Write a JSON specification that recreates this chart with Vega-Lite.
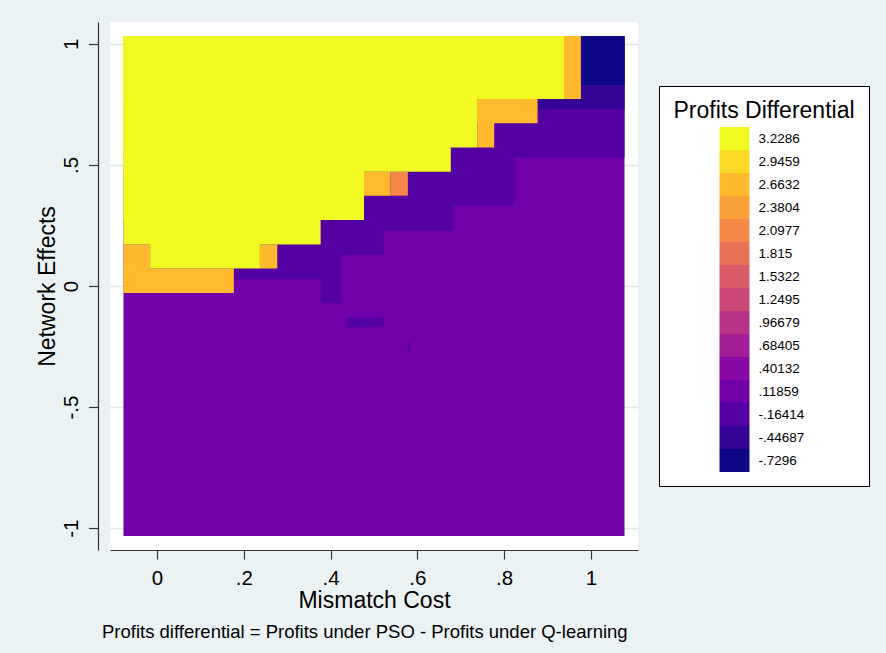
{
  "$schema": "https://vega.github.io/schema/vega-lite/v6.json",
  "width": 528,
  "height": 528,
  "autosize": {"type": "none"},
  "padding": {"left": 110, "top": 22, "right": 248, "bottom": 103},
  "background": "#eaf2f3",
  "config": {"view": {"fill": "white", "stroke": null}, "font": "Liberation Sans"},
  "title": {"text": "Profits differential = Profits under PSO - Profits under Q-learning", "orient": "bottom", "anchor": "start", "frame": "group", "fontSize": 18.5, "fontWeight": "normal", "color": "black", "offset": 10, "dx": -8},
  "data": {"values": [
    {"x": -0.0774, "x2": 1.0774, "y": -1.032, "y2": 1.032, "z": ".11859"},
    {"x": 0.377, "x2": 0.423, "y": -0.071, "y2": 1.032, "z": "-.16414"},
    {"x": 0.177, "x2": 0.423, "y": 0.028, "y2": 1.032, "z": "-.16414"},
    {"x": 0.177, "x2": 0.522, "y": 0.128, "y2": 1.032, "z": "-.16414"},
    {"x": 0.177, "x2": 0.683, "y": 0.228, "y2": 1.032, "z": "-.16414"},
    {"x": 0.177, "x2": 0.823, "y": 0.332, "y2": 1.032, "z": "-.16414"},
    {"x": 0.177, "x2": 1.0774, "y": 0.531, "y2": 1.032, "z": "-.16414"},
    {"x": 0.437, "x2": 0.522, "y": -0.17, "y2": -0.128, "z": "-.16414"},
    {"x": 0.578, "x2": 0.582, "y": -0.271, "y2": -0.23, "z": "-.16414"},
    {"x": 0.877, "x2": 1.0774, "y": 0.731, "y2": 1.032, "z": "-.44687"},
    {"x": -0.0774, "x2": -0.016, "y": -0.029, "y2": 0.171, "z": "2.6632"},
    {"x": -0.0774, "x2": 0.177, "y": -0.029, "y2": 0.072, "z": "2.6632"},
    {"x": 0.237, "x2": 0.277, "y": 0.072, "y2": 0.171, "z": "2.6632"},
    {"x": 0.477, "x2": 0.538, "y": 0.373, "y2": 0.472, "z": "2.6632"},
    {"x": 0.738, "x2": 0.777, "y": 0.572, "y2": 0.772, "z": "2.6632"},
    {"x": 0.738, "x2": 0.877, "y": 0.672, "y2": 0.772, "z": "2.6632"},
    {"x": 0.938, "x2": 0.977, "y": 0.772, "y2": 1.032, "z": "2.6632"},
    {"x": 0.538, "x2": 0.578, "y": 0.373, "y2": 0.472, "z": "2.0977"},
    {"x": 0.977, "x2": 1.0774, "y": 0.83, "y2": 1.032, "z": "-.7296"},
    {"x": -0.0774, "x2": 0.938, "y": 0.772, "y2": 1.032, "z": "3.2286"},
    {"x": -0.0774, "x2": 0.738, "y": 0.572, "y2": 1.032, "z": "3.2286"},
    {"x": -0.0774, "x2": 0.677, "y": 0.472, "y2": 1.032, "z": "3.2286"},
    {"x": -0.0774, "x2": 0.477, "y": 0.272, "y2": 1.032, "z": "3.2286"},
    {"x": -0.0774, "x2": 0.377, "y": 0.171, "y2": 1.032, "z": "3.2286"},
    {"x": -0.016, "x2": 0.237, "y": 0.072, "y2": 1.032, "z": "3.2286"}
  ]},
  "mark": {"type": "rect"},
  "encoding": {
    "x": {"field": "x", "type": "quantitative", "title": "Mismatch Cost",
      "scale": {"domain": [-0.1085, 1.1085], "nice": false, "zero": false},
      "axis": {"values": [0, 0.2, 0.4, 0.6, 0.8, 1], "labelExpr": "datum.value == 0 ? '0' : datum.value == 1 ? '1' : replace(format(datum.value, '.1f'), '0.', '.')",
        "labelFontSize": 20.5, "labelPadding": 9, "labelColor": "black", "labelFlush": false, "labelOverlap": false,
        "tickSize": 9, "tickColor": "#333333", "tickWidth": 1.2, "domainColor": "#333333", "domainWidth": 1.2,
        "grid": false, "titleFontSize": 23, "titleFontWeight": "normal", "titleColor": "black", "titlePadding": 1}},
    "x2": {"field": "x2"},
    "y": {"field": "y", "type": "quantitative", "title": "Network Effects",
      "scale": {"domain": [-1.09, 1.09], "nice": false, "zero": false},
      "axis": {"values": [-1, -0.5, 0, 0.5, 1], "labelExpr": "datum.value == 1 ? '1' : datum.value == 0.5 ? '.5' : datum.value == 0 ? '0' : datum.value == -0.5 ? '-.5' : '-1'",
        "labelAngle": -90, "labelAlign": "center", "labelBaseline": "alphabetic", "labelPadding": 11,
        "labelFontSize": 20.5, "labelColor": "black", "labelFlush": false, "labelOverlap": false,
        "offset": 12, "tickSize": 9.5, "tickColor": "#333333", "tickWidth": 1.2, "domainColor": "#333333", "domainWidth": 1.2,
        "grid": true, "gridColor": "#dde7eb", "gridWidth": 1.4,
        "titleFontSize": 23, "titleFontWeight": "normal", "titleColor": "black", "titlePadding": 2}},
    "y2": {"field": "y2"},
    "fill": {"field": "z", "type": "nominal", "title": "Profits Differential",
      "scale": {"domain": ["3.2286", "2.9459", "2.6632", "2.3804", "2.0977", "1.815", "1.5322", "1.2495", ".96679", ".68405", ".40132", ".11859", "-.16414", "-.44687", "-.7296"],
        "range": ["#f0f921", "#f9d925", "#feba2c", "#fba139", "#f48948", "#e97259", "#db5b68", "#cc4778", "#b93389", "#a31d99", "#8a0aa5", "#7001a8", "#5301a3", "#340597", "#0d0887"]},
      "legend": {"orient": "none", "legendX": 549, "legendY": 64, "padding": 14, "strokeColor": "black", "fillColor": "white",
        "titleFontSize": 23, "titleFontWeight": "normal", "titleColor": "black", "titleAnchor": "middle", "titlePadding": 4, "titleLimit": 400,
        "labelFontSize": 13.5, "labelColor": "black", "labelOffset": 12.5, "labelLimit": 200,
        "symbolType": "M-1.3043,-1H1.3043V1H-1.3043Z", "symbolSize": 529, "symbolStrokeWidth": 0, "symbolOffset": 0, "rowPadding": 0}}
  }
}
